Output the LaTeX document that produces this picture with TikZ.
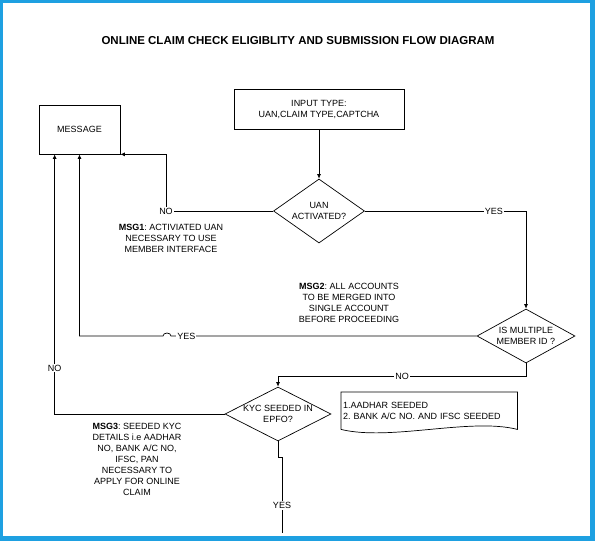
\documentclass[tikz,border=0pt]{standalone}
\usepackage{fontspec}
\setmainfont{Liberation Sans}
\frenchspacing
\usetikzlibrary{shapes.geometric,arrows.meta}
\definecolor{framecol}{RGB}{30,160,225}
\begin{document}
\begin{tikzpicture}[x=1pt,y=-1pt,
  font=\fontsize{9}{11}\selectfont,
  box/.style={rectangle, draw=black, line width=0.7pt, inner sep=0pt, align=center},
  decision/.style={diamond, draw=black, line width=0.7pt, inner sep=0pt, align=center},
  lbl/.style={fill=white, inner sep=1pt},
  msgtext/.style={align=center, inner sep=0pt},
  flow/.style={draw=black, line width=0.7pt, -{Latex[length=4.5pt,width=4pt]}}]
\useasboundingbox (0,0) rectangle (595,541);
\fill [framecol] (0,0) rectangle (595,541);
\fill [white] (3,3) rectangle (590,536);
\node (title) at (298,41) {\bfseries\fontsize{11.5}{13}\selectfont ONLINE CLAIM CHECK ELIGIBLITY AND SUBMISSION FLOW DIAGRAM};
% boxes
\node [box, minimum width=170pt, minimum height=40pt] (input) at (319,109) {INPUT TYPE:\\UAN,CLAIM TYPE,CAPTCHA};
\node [box, minimum width=81pt, minimum height=49pt] (msg) at (79.5,129.5) {MESSAGE};
\node [decision, aspect=1.42, minimum width=91pt, minimum height=64pt] (uan) at (319,211) {UAN\\ACTIVATED?};
\node [decision, aspect=1.81, minimum width=98pt, minimum height=54pt] (multi) at (526,336) {IS MULTIPLE\\MEMBER ID ?};
\node [decision, aspect=1.96, minimum width=106pt, minimum height=54pt] (kyc) at (278,414) {KYC SEEDED IN\\EPFO?};
\node [anchor=north west, text width=172pt, align=left, minimum height=37pt, inner xsep=2pt, inner ysep=0pt] (seeded) at (341,392) {1.AADHAR SEEDED\\2. BANK A/C NO. AND IFSC SEEDED};
\draw [line width=0.7pt] (seeded.south west) -- (seeded.north west) -- (seeded.north east) -- (seeded.south east)
  .. controls +(-47,-12) and +(49,12) .. (seeded.south west);
% messages
\node [msgtext] (msgone) at (171,238.5) {\textbf{MSG1}: ACTIVIATED UAN\\NECESSARY TO USE\\MEMBER INTERFACE};
\node [msgtext] (msgtwo) at (349,303) {\textbf{MSG2}: ALL ACCOUNTS\\TO BE MERGED INTO\\SINGLE ACCOUNT\\BEFORE PROCEEDING};
\node [msgtext] (msgthree) at (137,459) {\textbf{MSG3}: SEEDED KYC\\DETAILS i.e AADHAR\\NO, BANK A/C NO,\\IFSC, PAN\\NECESSARY TO\\APPLY FOR ONLINE\\CLAIM};
% connectors
\coordinate (kycend) at (282,533);
\draw [flow] (input) -- (uan);
\draw [flow] (uan.west) -- (166,211) node [lbl] {NO} |- (msg.south east);
\draw [flow] (uan.east) -| node [lbl, pos=0.4] {YES} (multi.north);
\draw [flow] (multi.west) -- node [lbl, pos=0.95] {YES} (171,336)
  arc [start angle=0, end angle=-180, x radius=4, y radius=3] -| (msg.south);
\draw [flow] (multi.south) -- (526,376) -- node [lbl] {NO} (278,376) -- (kyc.north);
\draw [flow] (kyc.west) -| node [lbl, pos=0.588] {NO} ([xshift=16pt]msg.south west);
\draw [line width=0.7pt] (kyc.south) -- (278,457) -- (282,457) -- node [lbl, pos=0.64] {YES} (kycend);
\end{tikzpicture}
\end{document}
